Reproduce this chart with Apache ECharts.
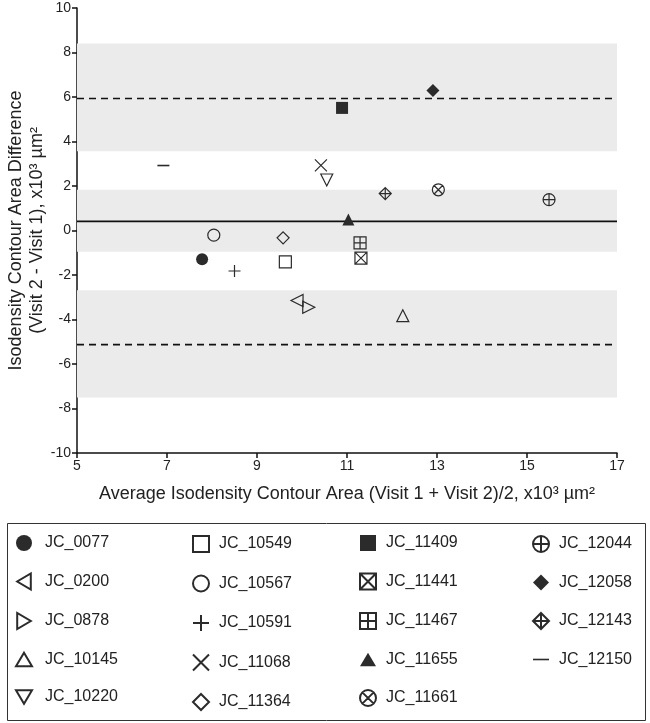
<!DOCTYPE html>
<html>
<head>
<meta charset="utf-8">
<script src="https://cdn.jsdelivr.net/npm/echarts@6/dist/echarts.min.js"></script>
<style>html,body{margin:0;padding:0;background:#fff;}#chart{width:650px;height:723px;}</style>
</head>
<body>
<div id="chart"></div>
<script>
// ---- data ----
const subjects = ['JC_0077','JC_0200','JC_0878','JC_10145','JC_10220','JC_10549','JC_10567','JC_10591','JC_11068','JC_11364','JC_11409','JC_11441','JC_11467','JC_11655','JC_11661','JC_12044','JC_12058','JC_12143','JC_12150'];
const avgArea = [7.78, 9.89, 10.15, 12.24, 10.55, 9.63, 8.04, 8.50, 10.42, 9.58, 10.89, 11.31, 11.29, 11.03, 13.03, 15.49, 12.91, 11.85, 6.92];
const diffArea = [-1.29, -3.15, -3.45, -3.83, 2.27, -1.41, -0.21, -1.82, 2.93, -0.33, 5.51, -1.24, -0.56, 0.50, 1.83, 1.39, 6.29, 1.66, 2.92];
const meanDiff = 0.41;
const limitsOfAgreement = [5.93, -5.13];
const ciBands = [[3.56, 8.40], [-0.95, 1.83], [-7.50, -2.69]];
const xTicks = [5, 17, 2];
const yTicks = [-10, 10, 2];
const legendColumns = [
  ['JC_0077','JC_0200','JC_0878','JC_10145','JC_10220'],
  ['JC_10549','JC_10567','JC_10591','JC_11068','JC_11364'],
  ['JC_11409','JC_11441','JC_11467','JC_11655','JC_11661'],
  ['JC_12044','JC_12058','JC_12143','JC_12150']
];

// ---- styles ----
const INK = '#2b2b2b';
const NONE = 'rgba(0,0,0,0)';
const circ = 'M0,10 A10,10 0 1,1 20,10 A10,10 0 1,1 0,10 Z';
const sq = 'M0,0 L20,0 L20,20 L0,20 Z';
const markerStyle = {
  'JC_0077':  {symbol: 'circle', fill: true},
  'JC_0200':  {symbol: 'path://M17,0 L17,20 L0,10 Z', fill: false},
  'JC_0878':  {symbol: 'path://M0,0 L0,20 L17,10 Z', fill: false},
  'JC_10145': {symbol: 'path://M10,0 L20,17 L0,17 Z', fill: false},
  'JC_10220': {symbol: 'path://M0,0 L20,0 L10,17 Z', fill: false},
  'JC_10549': {symbol: 'path://' + sq, fill: false},
  'JC_10567': {symbol: 'circle', fill: false},
  'JC_10591': {symbol: 'path://M0,10 L20,10 M10,0 L10,20', fill: false},
  'JC_11068': {symbol: 'path://M0,0 L20,20 M20,0 L0,20', fill: false},
  'JC_11364': {symbol: 'path://M10,0 L20,10 L10,20 L0,10 Z', fill: false},
  'JC_11409': {symbol: 'path://' + sq, fill: true},
  'JC_11441': {symbol: 'path://' + sq + ' M0,0 L20,20 M20,0 L0,20', fill: false},
  'JC_11467': {symbol: 'path://' + sq + ' M10,0 L10,20 M0,10 L20,10', fill: false},
  'JC_11655': {symbol: 'path://M10,0 L20,17 L0,17 Z', fill: true},
  'JC_11661': {symbol: 'path://' + circ + ' M2.93,2.93 L17.07,17.07 M17.07,2.93 L2.93,17.07', fill: false},
  'JC_12044': {symbol: 'path://' + circ + ' M0,10 L20,10 M10,0 L10,20', fill: false},
  'JC_12058': {symbol: 'path://M10,0 L20,10 L10,20 L0,10 Z', fill: true},
  'JC_12143': {symbol: 'path://M10,0 L20,10 L10,20 L0,10 Z M0,10 L20,10 M10,0 L10,20', fill: false},
  'JC_12150': {symbol: 'path://M0,0 L20,0 L20,2 L0,2 Z', fill: true}
};
const sizeOf = {'JC_12058': 13, 'JC_12150': [12, 1.6]};

const series = subjects.map((name, i) => {
  const st = markerStyle[name];
  return {
    name: name,
    type: 'scatter',
    data: [[avgArea[i], diffArea[i]]],
    symbol: st.symbol,
    symbolSize: sizeOf[name] || 12,
    itemStyle: st.fill ? {color: INK, borderWidth: 0, opacity: 1}
                       : {color: NONE, borderColor: INK, borderWidth: 1.2, opacity: 1},
    emphasis: {disabled: true},
    z: 5
  };
});

// confidence bands
series.push({
  name: '__bands',
  type: 'line',
  data: [],
  silent: true,
  markArea: {
    silent: true,
    label: {show: false},
    itemStyle: {color: '#ebebeb'},
    data: ciBands.map(b => [{yAxis: b[0]}, {yAxis: b[1]}])
  },
  z: 1
});
// mean and limits of agreement lines
const refLines = [
  {v: meanDiff, dash: 'solid'},
  {v: limitsOfAgreement[0], dash: [7, 5]},
  {v: limitsOfAgreement[1], dash: [7, 5]}
];
refLines.forEach((r, k) => series.push({
  name: '__line' + k,
  type: 'line',
  data: [[xTicks[0], r.v], [xTicks[1], r.v]],
  showSymbol: false,
  symbol: 'none',
  silent: true,
  lineStyle: {type: r.dash, color: '#111', width: 1.6},
  emphasis: {disabled: true},
  z: 2
}));

const FONT = 'Liberation Sans, Arial, sans-serif';
const legendCenters = [23, 200, 367, 540];
const legends = legendColumns.map((col, k) => ({
  orient: 'vertical',
  left: legendCenters[k] - 8,
  top: 535,
  padding: 0,
  data: col,
  itemWidth: 16,
  itemHeight: 16,
  itemGap: 21.5,
  selectedMode: false,
  textStyle: {fontFamily: FONT, fontSize: 16, color: '#222', padding: [0, 0, 0, k === 0 ? 8 : 5]}
}));

const chart = echarts.init(document.getElementById('chart'), null, {renderer: 'canvas'});
chart.setOption({
  animation: false,
  backgroundColor: '#fff',
  grid: {left: 77, right: 33, top: 8, bottom: 270, containLabel: false, outerBoundsMode: 'none'},
  xAxis: {
    type: 'value', min: xTicks[0], max: xTicks[1], interval: xTicks[2],
    name: 'Average Isodensity Contour Area (Visit 1 + Visit 2)/2, x10³ µm²',
    nameLocation: 'middle', nameGap: 32, nameMoveOverlap: false,
    nameTextStyle: {fontFamily: FONT, fontSize: 18, color: '#222'},
    axisLine: {show: true, onZero: false, lineStyle: {color: '#111', width: 1.5}},
    axisTick: {show: true, inside: false, length: 5, lineStyle: {color: '#111', width: 1.5}},
    axisLabel: {fontFamily: FONT, fontSize: 14, color: '#222', margin: 6},
    splitLine: {show: false}
  },
  yAxis: {
    type: 'value', min: yTicks[0], max: yTicks[1], interval: yTicks[2],
    name: 'Isodensity Contour Area Difference\n(Visit 2 - Visit 1), x10³ µm²',
    nameLocation: 'middle', nameGap: 29, nameRotate: 90, nameMoveOverlap: false,
    nameTextStyle: {fontFamily: FONT, fontSize: 18, color: '#222', lineHeight: 21},
    axisLine: {show: true, onZero: false, lineStyle: {color: '#111', width: 1.5}},
    axisTick: {show: true, inside: false, length: 5, lineStyle: {color: '#111', width: 1.5}},
    axisLabel: {fontFamily: FONT, fontSize: 14, color: '#222', margin: 6},
    splitLine: {show: false}
  },
  legend: legends,
  graphic: [{
    type: 'rect', left: 5, top: 521, silent: true,
    shape: {width: 638, height: 197},
    style: {fill: 'none', stroke: '#333', lineWidth: 1}
  }],
  series: series
});
</script>
</body>
</html>
